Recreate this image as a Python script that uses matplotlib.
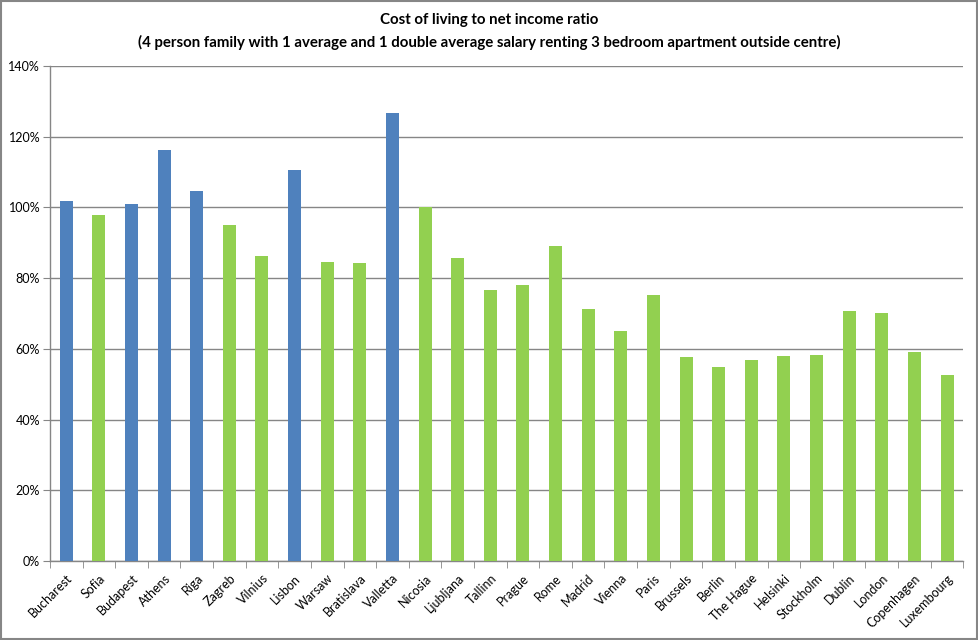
import numpy as np
import matplotlib
matplotlib.use("Agg")
import matplotlib.pyplot as plt
from matplotlib.ticker import FuncFormatter, FixedLocator

plt.rcParams['font.family'] = ['Lato', 'DejaVu Sans']

# 都市と比率（%）
cities = ["Bucharest", "Sofia", "Budapest", "Athens", "Riga", "Zagreb", "Vilnius",
          "Lisbon", "Warsaw", "Bratislava", "Valletta", "Nicosia", "Ljubljana",
          "Tallinn", "Prague", "Rome", "Madrid", "Vienna", "Paris", "Brussels",
          "Berlin", "The Hague", "Helsinki", "Stockholm", "Dublin", "London",
          "Copenhagen", "Luxembourg"]
ratios = [101.8, 97.8, 100.9, 116.2, 104.6, 95.0, 86.3, 110.5, 84.6, 84.3,
          126.6, 100.0, 85.7, 76.6, 78.1, 89.1, 71.3, 65.0, 75.2, 57.7,
          54.9, 56.8, 58.0, 58.3, 70.7, 70.1, 59.1, 52.6]
# 青 = 100%超の都市グループ
highlight = ["Bucharest", "Budapest", "Athens", "Riga", "Lisbon", "Valletta"]

BLUE = "#4F81BD"
GREEN = "#92D050"
GRID = "#868686"

fig = plt.figure(figsize=(9.79, 6.4), dpi=100)
ax = fig.add_axes([0.051, 0.1234, 0.933, 0.7735])

x = np.arange(len(cities))
colors = [BLUE if c in highlight else GREEN for c in cities]
ax.bar(x, ratios, width=0.4, color=colors, zorder=3)

ax.set_xlim(-0.5, len(cities) - 0.5)
ax.set_ylim(0, 140)
ax.set_yticks(np.arange(0, 141, 20))
ax.yaxis.set_major_formatter(FuncFormatter(lambda v, p: f"{int(v)}%"))
ax.yaxis.grid(True, color=GRID, linewidth=1, zorder=0)

ax.set_xticks(x)
ax.set_xticklabels(cities, rotation=45, ha="right", rotation_mode="anchor", fontsize=9)
ax.tick_params(axis="x", which="major", length=0, pad=8)
ax.xaxis.set_minor_locator(FixedLocator(np.arange(-0.5, len(cities), 1)))
ax.tick_params(axis="x", which="minor", length=5, color=GRID, direction="out")
ax.tick_params(axis="y", length=5, color=GRID, labelsize=9, pad=2)

for s in ["top", "right"]:
    ax.spines[s].set_visible(False)
for s in ["left", "bottom"]:
    ax.spines[s].set_color(GRID)
    ax.spines[s].set_linewidth(1)

fig.text(0.5, 0.968, "Cost of living to net income ratio", ha="center", va="center",
         fontsize=10.8, fontweight="bold")
fig.text(0.5, 0.934,
         "(4 person family with 1 average and 1 double average salary renting 3 bedroom apartment outside centre)",
         ha="center", va="center", fontsize=10.8, fontweight="bold")

# 外枠
fig.patches.append(plt.Rectangle((0.001, 0.001), 0.997, 0.997, transform=fig.transFigure,
                                 fill=False, edgecolor=GRID, linewidth=1.5))

fig.savefig("out.png", dpi=100)
